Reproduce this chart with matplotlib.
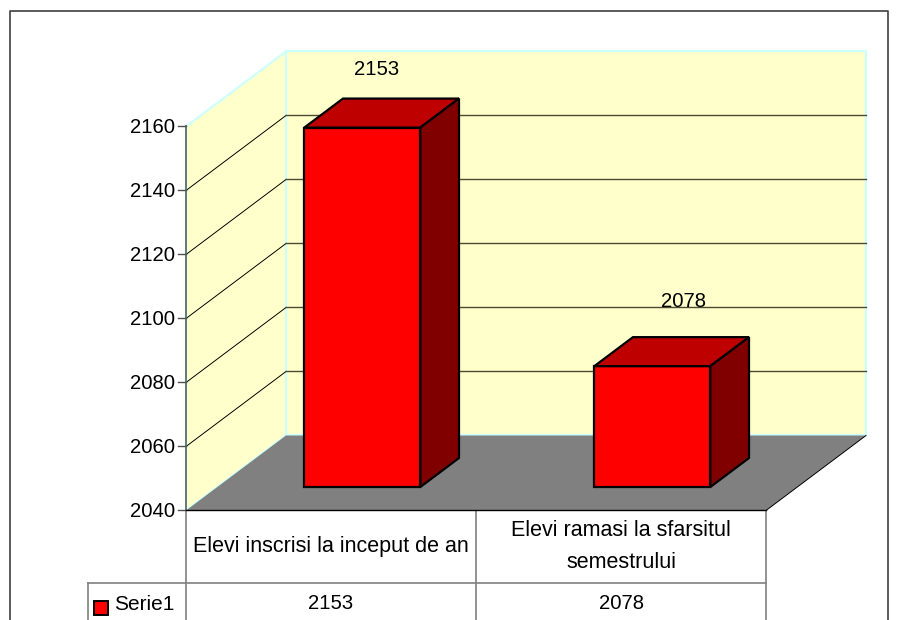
import matplotlib
matplotlib.use("Agg")
import matplotlib.pyplot as plt
from matplotlib.patches import Polygon, Rectangle

plt.rcParams['font.family'] = ['Liberation Sans', 'DejaVu Sans']

categories = ["Elevi inscrisi la inceput de an", "Elevi ramasi la sfarsitul\nsemestrului"]
values = [2153, 2078]
series_name = "Serie1"
y_ticks = [2040, 2060, 2080, 2100, 2120, 2140, 2160]

W, H = 899, 620
FS = 14.6
FS_CAT = 15.5

# depth of the 3d box, in category units and value units
DX = 100 / 290
DY = 75 / 3.2

fig = plt.figure(figsize=(W / 100, H / 100), dpi=100)

# pixel layer for the frame and the table under the chart
px = fig.add_axes([0, 0, 1, 1])
px.set_xlim(0, W)
px.set_ylim(H, 0)
px.axis("off")

# chart layer: x in categories, y in values
ax = fig.add_axes([0, 0, 1, 1])
ax.set_xlim(-186 / 290, (W - 186) / 290)
ax.set_ylim(2040 - (H - 510.5) / 3.2, 2160 + 126.5 / 3.2)
ax.axis("off")
ax.patch.set_alpha(0)

def proj(x, y, d):
    # d = 0 front of the box, d = 1 back wall
    return (x + DX * d, y + DY * d)

n = len(values)
lo, hi = y_ticks[0], y_ticks[-1]
wall = "#FFFFCC"
wall_edge = "#CCFFFF"

# walls and floor
ax.add_patch(Polygon([proj(0, lo, 0), proj(0, hi, 0), proj(0, hi, 1), proj(0, lo, 1)],
                     fc=wall, ec=wall_edge, lw=1.5, zorder=1))
ax.add_patch(Polygon([proj(0, lo, 1), proj(0, hi, 1), proj(n, hi, 1), proj(n, lo, 1)],
                     fc=wall, ec=wall_edge, lw=1.5, zorder=1))
ax.add_patch(Polygon([proj(0, lo, 0), proj(0, lo, 1), proj(n, lo, 1), proj(n, lo, 0)],
                     fc="#808080", ec="none", zorder=2))
ax.plot([proj(n, lo, 0)[0], proj(n, lo, 1)[0]], [proj(n, lo, 0)[1], proj(n, lo, 1)[1]],
        color="black", lw=0.7, zorder=3)

# gridlines
for t in y_ticks[1:-1]:
    a, b, c = proj(0, t, 0), proj(0, t, 1), proj(n, t, 1)
    ax.plot([a[0], b[0]], [a[1], b[1]], color="black", lw=0.7, zorder=3)
    ax.plot([b[0], c[0]], [b[1], c[1]], color="#4A4A30", lw=1.0, zorder=3)

# y axis
ax.plot([0, 0], [lo, hi], color="#5A6E6E", lw=1.3, zorder=4)
tick = 8 / 290
for t in y_ticks:
    ax.plot([-tick, 0], [t, t], color="#505050", lw=1.0, zorder=4)
    ax.text(-11 / 290, t - 0.3, str(t), ha="right", va="center", fontsize=FS, zorder=6)
ax.plot([0, n], [lo, lo], color="black", lw=1.0, zorder=4)

# bars
d0, d1 = 0.313, 0.70
bw = 0.4
bar_scale = 0.994
label_dx = [-0.085, -0.027]
label_dy = [9.0, 11.0]
for i, v in enumerate(values):
    x0 = i + 0.5 - bw / 2
    x1 = x0 + bw
    top = lo + (v - lo) * bar_scale
    ax.add_patch(Polygon([proj(x0, lo, d0), proj(x1, lo, d0), proj(x1, top, d0), proj(x0, top, d0)],
                         fc="#FF0000", ec="black", lw=1.6, joinstyle="miter", zorder=5))
    ax.add_patch(Polygon([proj(x0, top, d0), proj(x1, top, d0), proj(x1, top, d1), proj(x0, top, d1)],
                         fc="#BF0000", ec="black", lw=1.6, joinstyle="miter", zorder=5))
    ax.add_patch(Polygon([proj(x1, lo, d0), proj(x1, lo, d1), proj(x1, top, d1), proj(x1, top, d0)],
                         fc="#800000", ec="black", lw=1.6, joinstyle="miter", zorder=5))
    tx, ty = proj(i + 0.5, top, d1)
    ax.text(tx + label_dx[i], ty + label_dy[i], str(v), ha="center", va="center", fontsize=FS, zorder=6)

# frame
px.plot([10, 10, 888, 888], [H, 11, 11, H], color="#404040", lw=1.2)

# data table
grey = "#808080"
col = [186, 476, 766]
px.plot([88, 766], [583, 583], color=grey, lw=1.2)
px.plot([88, 88], [583, H], color=grey, lw=1.2)
for c in col:
    px.plot([c, c], [510, H], color=grey, lw=1.2)
for i, name in enumerate(categories):
    cx = (col[i] + col[i + 1]) / 2
    px.text(cx, 546.5, name, ha="center", va="center", fontsize=FS_CAT, linespacing=1.66)
    px.text(cx, 603.5, str(values[i]), ha="center", va="center", fontsize=FS)
px.add_patch(Rectangle((94, 600.5), 14, 14, fc="#FF0000", ec="black", lw=1.4))
px.text(114, 604, series_name, ha="left", va="center", fontsize=15)

fig.savefig("out.png", dpi=100)
